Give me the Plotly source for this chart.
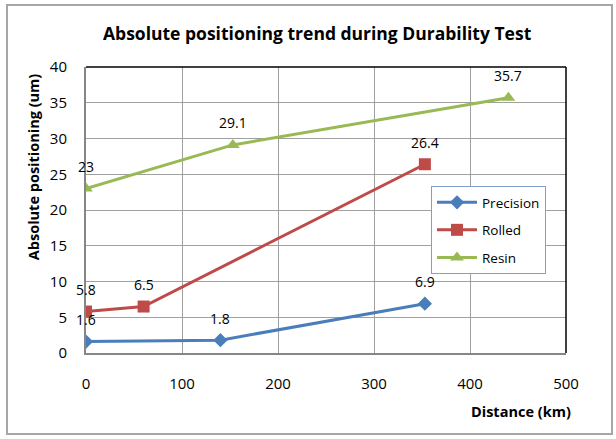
import plotly.graph_objects as go

series_names = ["Precision", "Rolled", "Resin"]
precision_x = [0, 140, 353]
precision_y = [1.6, 1.8, 6.9]
rolled_x = [0, 60, 353]
rolled_y = [5.8, 6.5, 26.4]
resin_x = [0, 153, 440]
resin_y = [23, 29.1, 35.7]
colors = ["#4a7ebb", "#be4b48", "#98b954"]
symbols = ["diamond", "square", "triangle-up"]
msizes = [11, 12, 12]

xs = [precision_x, rolled_x, resin_x]
ys = [precision_y, rolled_y, resin_y]

FONT = "Open Sans"

fig = go.Figure()
annotations = []
for name, x, y, c, s, ms in zip(series_names, xs, ys, colors, symbols, msizes):
    fig.add_trace(go.Scatter(
        x=x, y=y, name=name, mode="lines+markers",
        line=dict(color=c, width=3),
        marker=dict(symbol=s, size=ms, color=c),
        legendgroup=name,
    ))
    for xi, yi in zip(x, y):
        annotations.append(dict(
            x=xi, y=yi, xref="x", yref="y", text=f"{yi:g}", showarrow=False,
            yshift=22, font=dict(family=FONT, size=14, color="#000000"),
        ))

annotations.append(dict(
    text="<b>Absolute positioning trend during Durability Test</b>",
    xref="paper", yref="paper", x=(317 - 86) / 480, y=1.0, yshift=34, showarrow=False,
    font=dict(family=FONT, size=17.5, color="#000000"), xanchor="center", yanchor="middle",
))
annotations.append(dict(
    text="<b>Absolute positioning (um)</b>", textangle=-90,
    xref="paper", yref="paper", x=-0.11, y=(353 - 167) / 286, showarrow=False,
    font=dict(family=FONT, size=14.5, color="#000000"), xanchor="center", yanchor="middle",
))
annotations.append(dict(
    text="<b>Distance (km)</b>",
    xref="paper", yref="paper", x=(521 - 86) / 480, y=0, yshift=-58, showarrow=False,
    font=dict(family=FONT, size=14.5, color="#000000"), xanchor="center", yanchor="middle",
))

shapes = [
    dict(type="line", xref="paper", yref="paper", x0=0, x1=1, y0=1, y1=1,
         line=dict(color="#000000", width=1.5)),
    dict(type="line", xref="paper", yref="paper", x0=1, x1=1, y0=0, y1=1,
         line=dict(color="#000000", width=1.5)),
    dict(type="rect", xref="paper", yref="paper",
         x0=(7 - 86) / 480, x1=(612 - 86) / 480,
         y0=(353 - 434) / 286, y1=(353 - 5) / 286,
         line=dict(color="#a6a6a6", width=2), layer="below"),
]

fig.update_layout(
    width=616, height=439,
    margin=dict(l=86, r=50, t=67, b=86),
    paper_bgcolor="#ffffff", plot_bgcolor="#ffffff",
    font=dict(family=FONT, size=15, color="#000000"),
    xaxis=dict(range=[0, 500], dtick=100, showgrid=True, gridcolor="#a0a0a0", gridwidth=1,
               showline=True, linecolor="#868686", linewidth=2, zeroline=False,
               ticks="", ticklabelstandoff=16, tickfont=dict(family=FONT, size=15)),
    yaxis=dict(range=[0, 40], dtick=5, showgrid=True, gridcolor="#a0a0a0", gridwidth=1,
               showline=True, linecolor="#868686", linewidth=2, zeroline=False,
               ticks="", ticklabelstandoff=14, tickfont=dict(family=FONT, size=15)),
    legend=dict(x=(431 - 86) / 480, y=(353 - 186) / 286, xanchor="left", yanchor="top",
                bordercolor="#7f9fcf", borderwidth=1, bgcolor="#ffffff",
                font=dict(family=FONT, size=13.5), tracegroupgap=7,
                itemwidth=40),
    annotations=annotations,
    shapes=shapes,
    showlegend=True,
)

fig.write_html("out.html")
